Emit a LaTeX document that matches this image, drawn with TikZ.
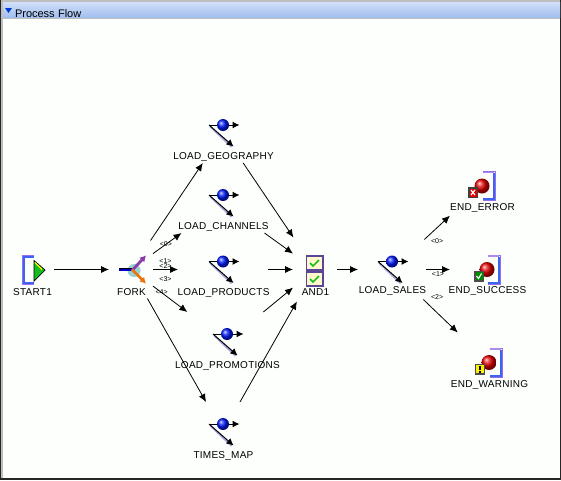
\documentclass[tikz,border=0pt]{standalone}
\usepackage{fontspec}
\setmainfont[LetterSpace=2.5]{Liberation Sans}
\newfontfamily\titlefont{Liberation Sans}
\usetikzlibrary{arrows.meta, positioning}
\definecolor{canvasWhite}{RGB}{252, 255, 252}
\definecolor{frameGray}{RGB}{190, 190, 190}
\definecolor{barTop}{RGB}{208, 222, 248}
\definecolor{barBottom}{RGB}{160, 190, 238}
\definecolor{bracketBlue}{RGB}{60, 100, 240}
\definecolor{bracketPurple}{RGB}{150, 110, 235}
\definecolor{shadowLavender}{RGB}{170, 165, 225}
\definecolor{forkTeal}{RGB}{150, 210, 210}
\definecolor{forkPurple}{RGB}{135, 60, 170}
\definecolor{forkOrange}{RGB}{235, 115, 15}
\definecolor{boxPurple}{RGB}{90, 70, 150}
\definecolor{boxCream}{RGB}{255, 248, 205}
\definecolor{checkGreen}{RGB}{20, 190, 30}
\newcommand{\boxlabel}[2][26pt]{\raisebox{-#1}[0pt][0pt]{\hspace*{1pt}\makebox[0pt]{#2}}}
\tikzset{
    taskicon/.pic={
        \draw[shadowLavender, line width=1.6pt] (-13,-6.5) -- (8.5,14);
        \draw[flowicon] (-14,-8) -- (16.5,-8);
        \draw[flowicon] (-14,-8) -- (10.5,13.5);
        \shade[ball color=blue!90!cyan] (0,-8) circle (6pt);
    },
    starticon/.pic={
        \draw[bracketPurple, line width=1pt] (1.5,-14.5) -- (-10,-14.5) -- (-10,14.5) -- (1.5,14.5);
        \draw[bracketBlue, line width=2pt] (1.5,-13) -- (-8.5,-13) -- (-8.5,13) -- (1.5,13);
        \fill[checkGreen, draw=black, line width=.7pt] (2,-9) -- (13,0.5) -- (2,11.5) -- cycle;
        \draw[yellow, line width=1.1pt] (3,-7) -- (10,0);
    },
    forkicon/.pic={
        \fill[forkTeal] (3,1) circle (6.5pt);
        \draw[black, line width=1.2pt] (-12,-1.2) -- (2,-1.2);
        \draw[blue!80!black, line width=2pt] (-12,0.6) -- (2,0.6);
        \draw[forkPurple, line width=2.8pt, -{Latex[length=6pt,width=7pt]}] (1,1) -- (15,-14);
        \draw[forkOrange, line width=2.8pt, -{Latex[length=6pt,width=7pt]}] (1,0) -- (15,14);
    },
    andicon/.pic={
        \foreach \boxtop in {-13.5,2.5} {
            \draw[boxPurple, fill=boxCream, line width=1.3pt] (-8.5,\boxtop) rectangle (8,\boxtop+14);
            \draw[checkGreen, line width=1.5pt] (-5,\boxtop+7) -- (-2,\boxtop+10) -- (4,\boxtop+4);
        }
    },
    endicon/.pic={
        \draw[bracketPurple, line width=1pt] (1,-14.5) -- (13.5,-14.5) -- (13.5,14.5) -- (1,14.5);
        \draw[bracketPurple!80!white, line width=1.2pt] (1,-13.5) -- (12,-13.5);
        \draw[bracketBlue, line width=2pt] (1,13) -- (11.8,13) -- (11.8,-13);
        \shade[ball color=red!90!black] (0,0) circle (7.5pt);
    },
    errorbadge/.pic={
        \fill[black!75] (-14,1) rectangle (-4,12);
        \fill[red!90!black] (-12.5,2.5) rectangle (-5.5,10.5);
        \draw[white, line width=1.2pt] (-11,4) -- (-7,9) (-11,9) -- (-7,4);
    },
    okbadge/.pic={
        \fill[black!70] (-13,1) rectangle (-3,12);
        \fill[green!55!black] (-11.5,2.5) rectangle (-4.5,10.5);
        \draw[white, line width=1.1pt] (-10.5,6.5) -- (-8.5,9) -- (-5.5,4);
    },
    warnbadge/.pic={
        \fill[black!70] (-14,1) rectangle (-4,12);
        \fill[yellow] (-12.8,2.2) rectangle (-5.2,10.8);
        \draw[black, line width=1.2pt] (-9,3.5) -- (-9,7.5) (-9,8.5) -- (-9,10);
    }
}
\begin{document}
\begin{tikzpicture}[
    x=1pt, y=-1pt,
    font=\fontsize{10}{10}\selectfont,
    flowbox/.style={rectangle, inner sep=0pt, outer sep=0pt, minimum height=60pt, minimum width=#1},
    flowbox/.default=90pt,
    flow/.style={-{Latex[length=8pt, width=7pt]}, line width=.8pt, black},
    flowicon/.style={-{Latex[length=7pt, width=7pt]}, line width=1pt, black},
    pinlabel/.style={font=\titlefont\fontsize{7}{7}\selectfont, inner sep=0pt}
]
    \useasboundingbox (0,0) rectangle (561,480);
    % Panel frame and title bar
    \fill[canvasWhite] (0,0) rectangle (561,480);
    \fill[frameGray] (0,0) rectangle (561,19);
    \fill[frameGray] (1,0) rectangle (3,480);
    \fill[black!85] (0,0) rectangle (1,480);
    \fill[black!85] (560,0) rectangle (561,480);
    \fill[black!85] (0,478) rectangle (561,480);
    \node[anchor=north west, rectangle, inner sep=0pt, outer sep=0pt, minimum width=557pt, minimum height=15pt, top color=barTop, bottom color=barBottom, text width=557pt, align=left] (title) at (3,2.5) {\hspace{12pt}\raisebox{-3.5pt}[7pt][0pt]{\titlefont\fontsize{11}{11}\selectfont Process Flow}};
    \fill[blue!70!cyan!80!black] (5,8) -- (12,8) -- (8.5,13) -- cycle;

    % Middle row: start, fork, products, and, sales, success
    \node[flowbox=44pt] (start) at (32,269.5) {\boxlabel{START1}};
    \node[flowbox=44pt, minimum height=58pt, right=55pt of start] (fork) {\boxlabel{FORK}};
    \node[flowbox, right=25pt of fork] (products) {\boxlabel{LOAD\_PRODUCTS}};
    \node[flowbox=44pt, minimum height=64pt, right=25pt of products] (and) {\boxlabel{AND1}};
    \node[flowbox=68pt, right=21pt of and] (sales) {\boxlabel[24pt]{LOAD\_SALES}};
    \node[flowbox=74pt, right=24pt of sales] (success) {\boxlabel[24pt]{END\_SUCCESS}};

    % Upper and lower branches
    \node[flowbox=104pt, above=76.5pt of products] (geography) {\boxlabel{LOAD\_GEOGRAPHY}};
    \node[flowbox, above=6.5pt of products] (channels) {\boxlabel{LOAD\_CHANNELS}};
    \node[flowbox=108pt, below=12.5pt of products, xshift=4pt] (promotions) {\boxlabel{LOAD\_PROMOTIONS}};
    \node[flowbox, below=30pt of promotions, xshift=-4pt] (timesmap) {\boxlabel{TIMES\_MAP}};
    \node[flowbox=64pt, above=23.5pt of success, xshift=-5pt] (enderror) {\boxlabel[24pt]{END\_ERROR}};
    \node[flowbox=74pt, below=33pt of success, xshift=2pt] (endwarning) {\boxlabel[25pt]{END\_WARNING}};

    % Icons
    \pic at (start) {starticon};
    \pic at (fork) {forkicon};
    \pic at (and) {andicon};
    \foreach \task in {geography, channels, products, promotions, timesmap, sales} {
        \pic at (\task) {taskicon};
    }
    \pic at (enderror) {endicon};
    \pic at (enderror) {errorbadge};
    \pic at (success) {endicon};
    \pic at (success) {okbadge};
    \pic at (endwarning) {endicon};
    \pic at (endwarning) {warnbadge};

    % Connections
    \draw[flow] (start) -- (fork);
    \draw[flow] (fork) -- (geography);
    \draw[flow] (fork) -- node[pinlabel, pos=.45] (pinzero) {<0>} (channels);
    \draw[flow] (fork) -- node[pinlabel, pos=.5, above=6pt] (pinone) {<1>} node[pinlabel, pos=.5, above=.5pt] (pintwo) {<2>} node[pinlabel, pos=.5, below=7pt] (pinthree) {<3>} (products);
    \draw[flow] (fork) -- node[pinlabel, pos=.25] (pinfour) {<4>} (promotions);
    \draw[flow] (fork) -- (timesmap);
    \draw[flow] (geography) -- (and);
    \draw[flow] (channels) -- (and);
    \draw[flow] (products) -- (and);
    \draw[flow] (promotions) -- (and);
    \draw[flow] (timesmap) -- (and);
    \draw[flow] (and) -- (sales);
    \draw[flow] (sales) -- node[pinlabel, pos=.5, below=11pt] (saleszero) {<0>} (enderror);
    \draw[flow] (sales) -- node[pinlabel, pos=.5, below=2pt] (salesone) {<1>} (success);
    \draw[flow] (sales) -- node[pinlabel, pos=.4, above=13pt] (salestwo) {<2>} (endwarning);
\end{tikzpicture}
\end{document}
